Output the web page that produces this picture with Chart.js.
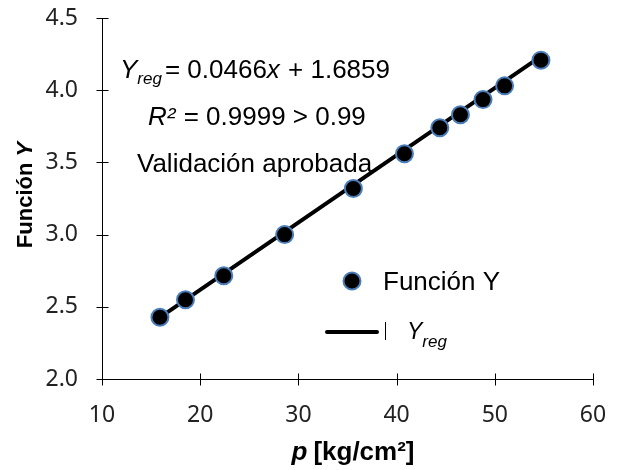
<!DOCTYPE html>
<html>
<head>
<meta charset="utf-8">
<script src="https://cdn.jsdelivr.net/npm/chart.js@4.4.1/dist/chart.umd.min.js"></script>
<style>
  html, body { margin: 0; padding: 0; background: #fff; }
  #wrap { width: 624px; height: 470px; }
</style>
</head>
<body>
<div id="wrap"><canvas id="chart" width="624" height="470"></canvas></div>
<script>
// measured pressure p and function Y
const pValues = [15.9, 18.5, 22.4, 28.6, 35.6, 40.8, 44.4, 46.5, 48.8, 51.0, 54.7];
const yValues = [2.428, 2.549, 2.715, 3.0, 3.319, 3.56, 3.74, 3.83, 3.935, 4.03, 4.208];

// regression line Y_reg = slope * x + intercept
const slope = 0.0466;
const intercept = 1.6859;
const regX = [pValues[0], pValues[pValues.length - 1]];

const xTicks = [10, 20, 30, 40, 50, 60];
const yTicks = [2.0, 2.5, 3.0, 3.5, 4.0, 4.5];

const pointData = pValues.map((p, i) => ({ x: p, y: yValues[i] }));
const regData = regX.map(x => ({ x: x, y: slope * x + intercept }));

const FONT = "'Liberation Sans', Arial, sans-serif";
const TICK_FONT = "'Noto Sans', 'Liberation Sans', sans-serif";

// draws pieces of text in a row, each with its own font and offset
function drawRuns(ctx, x, y, runs) {
  runs.forEach(r => {
    ctx.font = r.font;
    ctx.fillText(r.text, x, y + (r.dy || 0));
    x += ctx.measureText(r.text).width + (r.gap || 0);
  });
  return x;
}

function runsWidth(ctx, runs) {
  let w = 0;
  runs.forEach(r => { ctx.font = r.font; w += ctx.measureText(r.text).width + (r.gap || 0); });
  return w;
}

const extras = {
  id: "extras",
  afterDraw(chart) {
    const ctx = chart.ctx;
    const xs = chart.scales.x, ys = chart.scales.y;
    ctx.save();
    ctx.strokeStyle = "#000";
    ctx.lineWidth = 1;

    // crossing tick marks
    const x0 = Math.round(xs.getPixelForValue(10)) + 0.5;
    const y0 = Math.round(ys.getPixelForValue(2.0)) + 0.5;
    xTicks.forEach(t => {
      const px = Math.round(xs.getPixelForValue(t)) + 0.5;
      ctx.beginPath(); ctx.moveTo(px, y0 - 6); ctx.lineTo(px, y0 + 6); ctx.stroke();
    });
    yTicks.forEach(t => {
      const py = Math.round(ys.getPixelForValue(t)) + 0.5;
      ctx.beginPath(); ctx.moveTo(x0 - 6, py); ctx.lineTo(x0 + 6, py); ctx.stroke();
    });

    ctx.fillStyle = "#000";
    ctx.textBaseline = "alphabetic";
    ctx.textAlign = "left";

    // equation, R² and validation note
    drawRuns(ctx, 120, 78, [
      { text: "Y", font: "italic 26px " + FONT },
      { text: "reg", font: "italic 17px " + FONT, dy: 6, gap: 3 },
      { text: "= 0.0466", font: "26px " + FONT },
      { text: "x", font: "italic 26px " + FONT, gap: 1 },
      { text: " + 1.6859", font: "26px " + FONT }
    ]);
    drawRuns(ctx, 148, 125, [
      { text: "R²", font: "italic 26px " + FONT, gap: 1 },
      { text: " = 0.9999 > 0.99", font: "26px " + FONT }
    ]);
    ctx.font = "26px " + FONT;
    ctx.fillText("Validación aprobada", 137, 172);

    // legend
    ctx.beginPath();
    ctx.arc(352, 281, 8.5, 0, Math.PI * 2);
    ctx.fillStyle = "#000";
    ctx.fill();
    ctx.strokeStyle = "#4a7ebb";
    ctx.lineWidth = 2;
    ctx.stroke();
    ctx.fillStyle = "#000";
    ctx.font = "26px " + FONT;
    ctx.fillText("Función Y", 383, 290);

    ctx.strokeStyle = "#000";
    ctx.lineWidth = 4;
    ctx.lineCap = "round";
    ctx.beginPath(); ctx.moveTo(327, 332); ctx.lineTo(377, 332); ctx.stroke();
    ctx.lineWidth = 1;
    ctx.lineCap = "butt";
    ctx.beginPath(); ctx.moveTo(385.5, 322); ctx.lineTo(385.5, 340); ctx.stroke();
    drawRuns(ctx, 407, 339, [
      { text: "Y", font: "italic 23px " + FONT },
      { text: "reg", font: "italic 17px " + FONT, dy: 8 }
    ]);

    // x axis title
    const xt = [
      { text: "p", font: "italic bold 26px " + FONT, gap: 6 },
      { text: "[kg/cm²]", font: "bold 26px " + FONT }
    ];
    drawRuns(ctx, 353 - runsWidth(ctx, xt) / 2, 460, xt);

    // y axis title
    ctx.translate(32, 195);
    ctx.rotate(-Math.PI / 2);
    const yt = [
      { text: "Función ", font: "bold 22px " + FONT },
      { text: "Y", font: "italic bold 22px " + FONT }
    ];
    drawRuns(ctx, -runsWidth(ctx, yt) / 2, 0, yt);
    ctx.restore();
  }
};

new Chart(document.getElementById("chart"), {
  type: "scatter",
  data: {
    datasets: [
      {
        label: "Y_reg",
        type: "line",
        data: regData,
        borderColor: "#000",
        borderWidth: 4,
        pointRadius: 0,
        fill: false,
        order: 2
      },
      {
        label: "Función Y",
        data: pointData,
        backgroundColor: "#000",
        borderColor: "#4a7ebb",
        borderWidth: 2,
        pointRadius: 8.5,
        order: 1
      }
    ]
  },
  options: {
    responsive: false,
    animation: false,
    layout: { padding: { left: 0, top: 18, right: 31, bottom: 0 } },
    plugins: { legend: { display: false }, tooltip: { enabled: false } },
    scales: {
      x: {
        type: "linear",
        min: 10, max: 60,
        afterBuildTicks: s => { s.ticks = xTicks.map(v => ({ value: v })); },
        afterFit: s => { s.height = 91; s.paddingLeft = 0; s.paddingRight = 0; },
        grid: { drawOnChartArea: false, drawTicks: false },
        border: { color: "#000", width: 1 },
        ticks: {
          padding: 23,
          maxRotation: 0,
          color: "#222",
          font: { family: TICK_FONT, size: 23 },
          callback: v => String(v)
        }
      },
      y: {
        type: "linear",
        min: 2.0, max: 4.5,
        afterBuildTicks: s => { s.ticks = yTicks.map(v => ({ value: v })); },
        afterFit: s => { s.width = 102; s.paddingTop = 0; s.paddingBottom = 0; },
        grid: { drawOnChartArea: false, drawTicks: false },
        border: { color: "#000", width: 1 },
        ticks: {
          padding: 24,
          color: "#222",
          font: { family: TICK_FONT, size: 23 },
          callback: v => v.toFixed(1)
        }
      }
    }
  },
  plugins: [extras]
});
</script>
</body>
</html>
